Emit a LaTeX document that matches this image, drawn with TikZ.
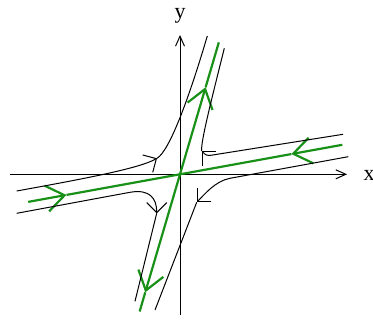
\documentclass[tikz,border=0pt]{standalone}
\usepackage{fontspec}
\setmainfont{Liberation Serif}
\usepackage{xcolor}
\usetikzlibrary{arrows.meta}

\definecolor{eigen}{RGB}{25,145,25}

\begin{document}
\begin{tikzpicture}[
  x=0.5pt, y=0.5pt,
  axis/.style={line width=0.5pt, -{Straight Barb[length=5pt,width=4.5pt]}},
  traj/.style={line width=0.5pt},
  flow/.style={traj, -{Straight Barb[length=5pt,width=10pt]}},
  eig/.style={eigen, line width=1.1pt},
  eigarr/.style={eig, -{Straight Barb[length=9pt,width=13pt]}},
  lbl/.style={font=\fontsize{11}{13}\selectfont, inner sep=0pt}
]
\useasboundingbox (-180,-145.7) rectangle (193,174.3);

% axes
\coordinate (O) at (0,0);
\coordinate (xw) at (-170,0);
\coordinate (xe) at (167,0);
\coordinate (ys) at (0,-140.7);
\coordinate (yn) at (0,139.3);
\draw[axis] (xw) -- (xe);
\draw[axis] (ys) -- (yn);
\node[lbl] (xlab) at (189,-0.7) {x};
\node[lbl] (ylab) at (0,158.4) {y};

% eigen directions, unstable (steep) and stable (shallow)
\coordinate (un) at (73.6:137.5);
\coordinate (una) at (73.6:90.8);
\coordinate (us) at (253.6:143);
\coordinate (usa) at (253.6:123);
\coordinate (se) at (10.3:165);
\coordinate (sea) at (10.3:113.2);
\coordinate (sw) at (190.3:154.3);
\coordinate (swa) at (190.3:115.4);
\draw[eigarr] (O) -- (una);
\draw[eig] (una) -- (un);
\draw[eigarr] (O) -- (usa);
\draw[eig] (usa) -- (us);
\draw[eigarr] (se) -- (sea);
\draw[eig] (sea) -- (O);
\draw[eigarr] (sw) -- (swa);
\draw[eig] (swa) -- (O);

% trajectories
\coordinate (ul-w) at (-163.3,-16.7);
\coordinate (ul-m) at (-23,16);
\coordinate (ul-n) at (27.3,138.3);
\draw[flow] (ul-w) .. controls +(10.3:70) and +(210:20) .. (ul-m);
\draw[traj] (ul-m) .. controls +(30:15) and +(253.6:60) .. (ul-n);

\coordinate (ur-e) at (163,40);
\coordinate (ur-k) at (34,19.5);
\coordinate (ur-m) at (21.7,23.3);
\coordinate (ur-n) at (44.3,126);
\draw[flow] (ur-e) -- (ur-k) .. controls +(190:8) and +(-45:6) .. (ur-m);
\draw[traj] (ur-m) .. controls +(100:8) and +(256:50) .. (ur-n);

\coordinate (ll-w) at (-163.3,-39);
\coordinate (ll-k) at (-50,-18);
\coordinate (ll-m) at (-23.3,-39);
\coordinate (ll-s) at (-45,-127);
\draw[flow] (ll-w) -- (ll-k) .. controls +(10:20) and +(90:15) .. (ll-m);
\draw[traj] (ll-m) -- (ll-s);

\coordinate (lr-e) at (168.3,17.6);
\coordinate (lr-k) at (50,-4);
\coordinate (lr-m) at (16.7,-28);
\coordinate (lr-s) at (-25,-135.7);
\draw[flow] (lr-e) -- (lr-k) .. controls +(190:15) and +(45:10) .. (lr-m);
\draw[traj] (lr-m) -- (lr-s);
\end{tikzpicture}
\end{document}
